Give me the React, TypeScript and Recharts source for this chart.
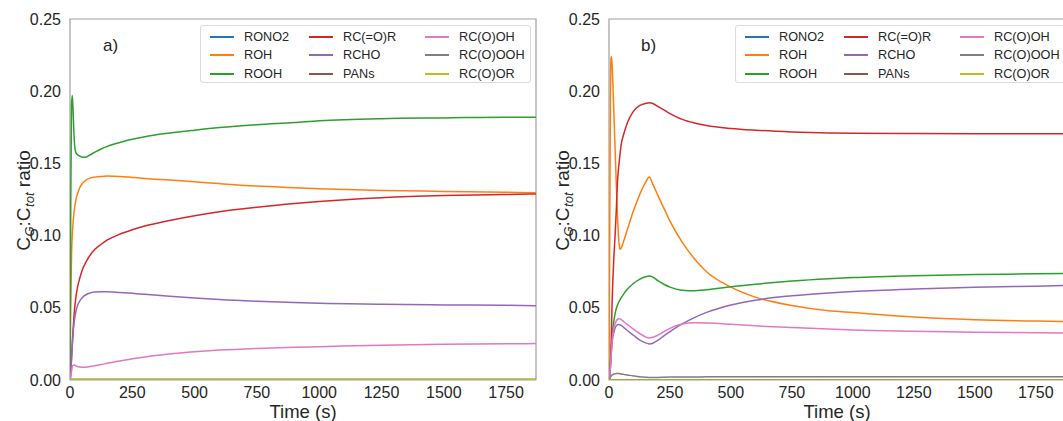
import React from 'react';
import { LineChart, Line, XAxis, YAxis, ReferenceArea, Legend } from 'recharts';

const SERIES = ['RONO2', 'ROH', 'ROOH', 'RC(=O)R', 'RCHO', 'PANs', 'RC(O)OH', 'RC(O)OOH', 'RC(O)OR'];
const COLORS = ['#1f77b4', '#ff7f0e', '#2ca02c', '#d62728', '#9467bd', '#8c564b', '#e377c2', '#7f7f7f', '#bcbd22'];
const X_TICKS = [0, 250, 500, 750, 1000, 1250, 1500, 1750];
const Y_TICKS = [0, 0.05, 0.1, 0.15, 0.2, 0.25];
const X_MAX = 1870;

// ---------- Panel a ----------
const tA = [0, 3, 6, 9, 12, 16, 20, 25, 30, 40, 50, 65, 80, 100, 125, 150, 200, 250, 300, 400, 500, 600, 750, 900, 1000, 1250, 1500, 1750, 1870];
const aRONO2 = [0, 0, 0, 0, 0, 0, 0, 0, 0, 0, 0, 0, 0, 0, 0, 0, 0, 0, 0, 0, 0, 0, 0, 0, 0, 0, 0, 0, 0];
const aROH = [0, 0.05, 0.085, 0.1, 0.108, 0.116, 0.121, 0.126, 0.129, 0.1335, 0.1362, 0.1385, 0.1398, 0.1405, 0.141, 0.1412, 0.141, 0.1403, 0.1396, 0.1385, 0.1373, 0.136, 0.1343, 0.1332, 0.1325, 0.1313, 0.1306, 0.13, 0.1297];
const aROOH = [0, 0.12, 0.19, 0.197, 0.188, 0.17, 0.16, 0.157, 0.156, 0.155, 0.1543, 0.1545, 0.1558, 0.1578, 0.16, 0.1618, 0.1645, 0.1667, 0.1685, 0.171, 0.173, 0.1748, 0.1768, 0.1783, 0.1795, 0.181, 0.1815, 0.182, 0.182];
const aRCOR = [0, 0.005, 0.015, 0.025, 0.034, 0.044, 0.052, 0.059, 0.064, 0.071, 0.0765, 0.082, 0.0862, 0.0905, 0.094, 0.097, 0.101, 0.104, 0.1066, 0.1105, 0.1138, 0.1165, 0.1196, 0.1222, 0.1236, 0.1262, 0.1277, 0.1285, 0.1288];
const aRCHO = [0, 0.005, 0.014, 0.023, 0.031, 0.039, 0.044, 0.0485, 0.0515, 0.055, 0.0572, 0.0592, 0.0603, 0.0609, 0.0611, 0.0611, 0.0606, 0.06, 0.0593, 0.058, 0.0568, 0.0557, 0.0545, 0.0536, 0.0531, 0.0525, 0.052, 0.0517, 0.0515];
const aPANs = [0, 0, 0, 0, 0, 0, 0, 0, 0, 0, 0, 0, 0, 0, 0, 0, 0, 0, 0, 0, 0, 0, 0, 0, 0, 0, 0, 0, 0];
const aRCOOH = [0, 0.002, 0.006, 0.009, 0.0103, 0.0104, 0.0101, 0.0097, 0.0094, 0.009, 0.0088, 0.0089, 0.0093, 0.0099, 0.0107, 0.0116, 0.0132, 0.0147, 0.016, 0.018, 0.0195, 0.0207, 0.0219, 0.0227, 0.0231, 0.0241, 0.0248, 0.0251, 0.0252];
const aRCOOOH = [0, 0.0003, 0.0005, 0.0005, 0.0005, 0.0005, 0.0005, 0.0005, 0.0005, 0.0005, 0.0005, 0.0005, 0.0005, 0.0005, 0.0005, 0.0005, 0.0005, 0.0005, 0.0005, 0.0005, 0.0005, 0.0005, 0.0005, 0.0005, 0.0005, 0.0005, 0.0005, 0.0005, 0.0005];
const aRCOOR = [0, 0.0003, 0.0003, 0.0003, 0.0003, 0.0003, 0.0003, 0.0003, 0.0003, 0.0003, 0.0003, 0.0003, 0.0003, 0.0003, 0.0003, 0.0003, 0.0003, 0.0003, 0.0003, 0.0003, 0.0003, 0.0003, 0.0003, 0.0003, 0.0003, 0.0003, 0.0003, 0.0003, 0.0003];

// ---------- Panel b ----------
const tB = [0, 3, 6, 8, 10, 13, 16, 20, 25, 30, 35, 40, 45, 50, 60, 75, 100, 125, 150, 165, 180, 200, 225, 250, 300, 350, 400, 500, 600, 750, 900, 1000, 1250, 1500, 1750, 1870];
const bRONO2 = [0, 0, 0, 0, 0, 0, 0, 0, 0, 0, 0, 0, 0, 0, 0, 0, 0, 0, 0, 0, 0, 0, 0, 0, 0, 0, 0, 0, 0, 0, 0, 0, 0, 0, 0, 0];
const bROH = [0, 0.1, 0.2, 0.222, 0.224, 0.218, 0.205, 0.185, 0.16, 0.135, 0.113, 0.097, 0.0905, 0.0915, 0.096, 0.104, 0.117, 0.128, 0.1368, 0.1405, 0.1355, 0.128, 0.119, 0.11, 0.0955, 0.084, 0.075, 0.0643, 0.0574, 0.0516, 0.048, 0.0468, 0.0437, 0.0418, 0.0408, 0.0405];
const bROOH = [0, 0.005, 0.012, 0.018, 0.024, 0.031, 0.036, 0.041, 0.046, 0.0495, 0.052, 0.054, 0.0555, 0.057, 0.0595, 0.0628, 0.0668, 0.0697, 0.0715, 0.072, 0.0712, 0.0688, 0.0663, 0.0643, 0.0622, 0.0618, 0.0625, 0.0645, 0.0663, 0.0685, 0.0701, 0.0709, 0.0722, 0.073, 0.0735, 0.0738];
const bRCOR = [0, 0.002, 0.01, 0.02, 0.035, 0.055, 0.07, 0.085, 0.1, 0.118, 0.138, 0.148, 0.156, 0.163, 0.17, 0.178, 0.186, 0.19, 0.1915, 0.192, 0.1915, 0.1895, 0.187, 0.1845, 0.1805, 0.178, 0.1762, 0.1742, 0.173, 0.1718, 0.1711, 0.1709, 0.1707, 0.1706, 0.1705, 0.1705];
const bRCHO = [0, 0.003, 0.01, 0.015, 0.02, 0.026, 0.03, 0.033, 0.036, 0.0375, 0.0383, 0.0385, 0.0383, 0.0378, 0.0365, 0.0343, 0.031, 0.0278, 0.0257, 0.025, 0.0255, 0.0274, 0.0306, 0.0335, 0.0388, 0.0432, 0.0468, 0.052, 0.0553, 0.0583, 0.0603, 0.0613, 0.063, 0.0642, 0.065, 0.0654];
const bPANs = [0, 0, 0, 0, 0, 0, 0, 0, 0, 0, 0, 0, 0, 0, 0, 0, 0, 0, 0, 0, 0, 0, 0, 0, 0, 0, 0, 0, 0, 0, 0, 0, 0, 0, 0, 0];
const bRCOOH = [0, 0.003, 0.01, 0.015, 0.02, 0.027, 0.032, 0.036, 0.039, 0.041, 0.042, 0.0425, 0.0423, 0.0418, 0.0405, 0.0385, 0.0352, 0.0322, 0.0298, 0.0291, 0.0296, 0.031, 0.0335, 0.0358, 0.0388, 0.0396, 0.0395, 0.0386, 0.0375, 0.0363, 0.0353, 0.0347, 0.0338, 0.0331, 0.0327, 0.0325];
const bRCOOOH = [0, 0.001, 0.002, 0.0025, 0.003, 0.0035, 0.0038, 0.0041, 0.0043, 0.0045, 0.0045, 0.0045, 0.0044, 0.0042, 0.0039, 0.0035, 0.0028, 0.0022, 0.0019, 0.0018, 0.0018, 0.0018, 0.0019, 0.002, 0.0021, 0.0021, 0.0022, 0.0022, 0.0022, 0.0023, 0.0023, 0.0023, 0.0023, 0.0023, 0.0023, 0.0023];
const bRCOOR = [0, 0, 0, 0, 0, 0, 0, 0, 0, 0, 0, 0, 0, 0, 0, 0, 0, 0, 0, 0, 0, 0, 0, 0, 0, 0, 0, 0, 0, 0, 0, 0, 0, 0, 0, 0];

const seriesA = [aRONO2, aROH, aROOH, aRCOR, aRCHO, aPANs, aRCOOH, aRCOOOH, aRCOOR];
const seriesB = [bRONO2, bROH, bROOH, bRCOR, bRCHO, bPANs, bRCOOH, bRCOOOH, bRCOOR];

function buildRows(times: number[], series: number[][]) {
  return times.map((t, i) => {
    const row: Record<string, number> = { t };
    series.forEach((s, k) => {
      row['k' + k] = s[i];
    });
    return row;
  });
}

const dataA = buildRows(tA, seriesA);
const dataB = buildRows(tB, seriesB);

const FONT = '"Liberation Sans", Arial, Helvetica, sans-serif';
const TEXT = '#262626';
const SPINE = '#a0a0a0';

function LegendBox() {
  // matplotlib fills legend columns top-to-bottom, in series order
  const colX = [9, 108, 224];
  const rowY = [11, 29, 48];
  return (
    <div
      style={{
        position: 'relative',
        width: 331,
        height: 58,
        border: '1px solid #dcdcdc',
        borderRadius: 3,
        background: 'rgba(255,255,255,0.85)',
        boxSizing: 'border-box',
        fontFamily: FONT,
        fontSize: 12.7,
        color: TEXT,
      }}
    >
      {SERIES.map((name, i) => {
        const c = Math.floor(i / 3);
        const r = i % 3;
        return (
          <React.Fragment key={name}>
            <div style={{ position: 'absolute', left: colX[c], top: rowY[r] - 1, width: 24, height: 2, background: COLORS[i] }} />
            <div style={{ position: 'absolute', left: colX[c] + 34, top: rowY[r] - 8, lineHeight: '16px', whiteSpace: 'nowrap' }}>{name}</div>
          </React.Fragment>
        );
      })}
    </div>
  );
}

const yLabel = (props: any) => {
  const vb = (props && props.viewBox) || {};
  const cx = (vb.x ?? 0) + 23;
  const cy = (vb.y ?? 19) + (vb.height ?? 361) / 2 + 1;
  return (
    <text
      x={cx}
      y={cy + 6.5}
      transform={`rotate(-90 ${cx} ${cy})`}
      textAnchor="middle"
      fontFamily={FONT}
      fontSize={19}
      fill={TEXT}
    >
      <tspan>C</tspan>
      <tspan fontSize={13} fontStyle="italic" dx={0.5} dy={4}>G</tspan>
      <tspan dy={-4}>:C</tspan>
      <tspan fontSize={13} fontStyle="italic" dx={0.5} dy={4}>tot</tspan>
      <tspan dy={-4}> ratio</tspan>
    </text>
  );
};

const xLabel = (props: any) => {
  const vb = (props && props.viewBox) || {};
  const cx = (vb.x ?? 70) + (vb.width ?? 466) / 2;
  return (
    <text x={cx} y={418} textAnchor="middle" fontFamily={FONT} fontSize={18.5} fill={TEXT}>
      Time (s)
    </text>
  );
};

function Panel({ data, left, width, marginRight, legendLeft }: { data: any[]; left: number; width: number; marginRight: number; legendLeft: number }) {
  return (
    <div style={{ position: 'absolute', left, top: 0 }}>
      <LineChart width={width} height={421} data={data} margin={{ top: 19, right: marginRight, bottom: 0, left: 0 }}>
        <XAxis
          dataKey="t"
          type="number"
          domain={[0, X_MAX]}
          ticks={X_TICKS}
          allowDataOverflow
          axisLine={false}
          tickLine={false}
          tickMargin={1}
          height={41}
          tick={{ fontSize: 16, fill: TEXT, fontFamily: FONT }}
          label={xLabel}
        />
        <YAxis
          type="number"
          domain={[0, 0.25]}
          ticks={Y_TICKS}
          allowDataOverflow
          axisLine={false}
          tickLine={false}
          width={70}
          tickMargin={3}
          tickFormatter={(v: number) => v.toFixed(2)}
          tick={{ fontSize: 16, fill: TEXT, fontFamily: FONT }}
          label={yLabel}
        />
        {SERIES.map((name, i) => (
          <Line
            key={name}
            dataKey={'k' + i}
            name={name}
            stroke={COLORS[i]}
            strokeWidth={1.5}
            dot={false}
            type="monotone"
            isAnimationActive={false}
          />
        ))}
        <ReferenceArea x1={0} x2={X_MAX} y1={0} y2={0.25} fill="none" fillOpacity={0} stroke={SPINE} strokeWidth={1.2} />
        <Legend
          layout="horizontal"
          verticalAlign="middle"
          align="center"
          content={() => <LegendBox />}
          wrapperStyle={{ left: legendLeft, top: 25, width: 331, height: 58, right: 'auto', bottom: 'auto' }}
        />
      </LineChart>
    </div>
  );
}

export default function App() {
  return (
    <div style={{ position: 'absolute', left: 0, top: 0, width: 1063, height: 421, overflow: 'hidden', background: '#fff' }}>
      <Panel data={dataA} left={0} width={545} marginRight={9} legendLeft={200} />
      <Panel data={dataB} left={539} width={530} marginRight={4} legendLeft={196} />
      <svg width={1063} height={421} style={{ position: 'absolute', left: 0, top: 0, pointerEvents: 'none' }}>
        <text x={103} y={51} fontFamily={FONT} fontSize={17} fill={TEXT}>a)</text>
        <text x={641} y={51} fontFamily={FONT} fontSize={17} fill={TEXT}>b)</text>
      </svg>
    </div>
  );
}
